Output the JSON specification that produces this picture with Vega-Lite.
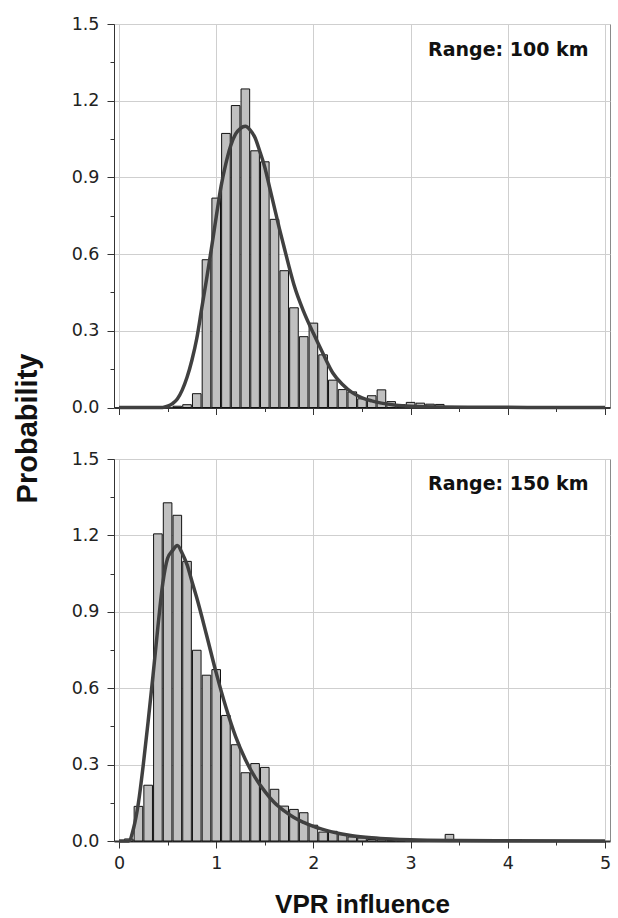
{
  "$schema": "https://vega.github.io/schema/vega-lite/v6.json",
  "padding": {"left": 12, "top": 14, "right": 2, "bottom": 2},
  "background": "white",
  "spacing": 51,
  "bounds": "flush",
  "datasets": {
    "bars100": [
      {"x": 0.6, "p": 0.005}, {"x": 0.7, "p": 0.011}, {"x": 0.8, "p": 0.054}, {"x": 0.9, "p": 0.578},
      {"x": 1.0, "p": 0.819}, {"x": 1.1, "p": 1.072}, {"x": 1.2, "p": 1.181}, {"x": 1.3, "p": 1.246},
      {"x": 1.4, "p": 1.004}, {"x": 1.5, "p": 0.961}, {"x": 1.6, "p": 0.736}, {"x": 1.7, "p": 0.535},
      {"x": 1.8, "p": 0.39}, {"x": 1.9, "p": 0.277}, {"x": 2.0, "p": 0.33}, {"x": 2.1, "p": 0.206},
      {"x": 2.2, "p": 0.107}, {"x": 2.3, "p": 0.07}, {"x": 2.4, "p": 0.061}, {"x": 2.5, "p": 0.034},
      {"x": 2.6, "p": 0.046}, {"x": 2.7, "p": 0.069}, {"x": 2.8, "p": 0.023}, {"x": 2.9, "p": 0.011},
      {"x": 3.0, "p": 0.02}, {"x": 3.1, "p": 0.017}, {"x": 3.2, "p": 0.013}, {"x": 3.3, "p": 0.012},
      {"x": 3.4, "p": 0.004}, {"x": 3.5, "p": 0.003}, {"x": 3.6, "p": 0.003}, {"x": 3.7, "p": 0.002}
    ],
    "curve100": [
      {"x": 0, "p": 0}, {"x": 0.45, "p": 0}, {"x": 0.5, "p": 0.005}, {"x": 0.55, "p": 0.015},
      {"x": 0.6, "p": 0.033}, {"x": 0.65, "p": 0.068}, {"x": 0.7, "p": 0.118}, {"x": 0.75, "p": 0.185},
      {"x": 0.8, "p": 0.27}, {"x": 0.85, "p": 0.385}, {"x": 0.9, "p": 0.5}, {"x": 0.95, "p": 0.62},
      {"x": 1.0, "p": 0.745}, {"x": 1.05, "p": 0.865}, {"x": 1.1, "p": 0.955}, {"x": 1.15, "p": 1.025},
      {"x": 1.2, "p": 1.07}, {"x": 1.25, "p": 1.092}, {"x": 1.3, "p": 1.1}, {"x": 1.35, "p": 1.085},
      {"x": 1.4, "p": 1.055}, {"x": 1.45, "p": 1.0}, {"x": 1.5, "p": 0.94}, {"x": 1.55, "p": 0.86},
      {"x": 1.6, "p": 0.78}, {"x": 1.65, "p": 0.7}, {"x": 1.7, "p": 0.625}, {"x": 1.75, "p": 0.55},
      {"x": 1.8, "p": 0.48}, {"x": 1.9, "p": 0.375}, {"x": 2.0, "p": 0.29}, {"x": 2.1, "p": 0.21},
      {"x": 2.2, "p": 0.135}, {"x": 2.3, "p": 0.09}, {"x": 2.4, "p": 0.058}, {"x": 2.5, "p": 0.038},
      {"x": 2.6, "p": 0.026}, {"x": 2.7, "p": 0.017}, {"x": 2.85, "p": 0.009}, {"x": 3.0, "p": 0.005},
      {"x": 3.3, "p": 0.002}, {"x": 3.7, "p": 0.001}, {"x": 4.2, "p": 0.0003}, {"x": 5.0, "p": 0}
    ],
    "bars150": [
      {"x": 0.1, "p": 0.008}, {"x": 0.2, "p": 0.136}, {"x": 0.3, "p": 0.219}, {"x": 0.4, "p": 1.206},
      {"x": 0.5, "p": 1.328}, {"x": 0.6, "p": 1.279}, {"x": 0.7, "p": 1.098}, {"x": 0.8, "p": 0.749},
      {"x": 0.9, "p": 0.651}, {"x": 1.0, "p": 0.673}, {"x": 1.1, "p": 0.493}, {"x": 1.2, "p": 0.378},
      {"x": 1.3, "p": 0.268}, {"x": 1.4, "p": 0.304}, {"x": 1.5, "p": 0.289}, {"x": 1.6, "p": 0.203},
      {"x": 1.7, "p": 0.137}, {"x": 1.8, "p": 0.124}, {"x": 1.9, "p": 0.111}, {"x": 2.0, "p": 0.062},
      {"x": 2.1, "p": 0.035}, {"x": 2.2, "p": 0.038}, {"x": 2.3, "p": 0.025}, {"x": 2.4, "p": 0.016},
      {"x": 2.5, "p": 0.012}, {"x": 2.6, "p": 0.006}, {"x": 2.7, "p": 0.005}, {"x": 2.8, "p": 0.002},
      {"x": 2.9, "p": 0.002}, {"x": 3.4, "p": 0.026}
    ],
    "curve150": [
      {"x": 0, "p": 0}, {"x": 0.1, "p": 0}, {"x": 0.15, "p": 0.05}, {"x": 0.2, "p": 0.15},
      {"x": 0.25, "p": 0.3}, {"x": 0.3, "p": 0.47}, {"x": 0.35, "p": 0.65}, {"x": 0.4, "p": 0.84},
      {"x": 0.45, "p": 1.01}, {"x": 0.5, "p": 1.11}, {"x": 0.55, "p": 1.14}, {"x": 0.6, "p": 1.16},
      {"x": 0.65, "p": 1.13}, {"x": 0.7, "p": 1.085}, {"x": 0.75, "p": 1.02}, {"x": 0.8, "p": 0.955},
      {"x": 0.9, "p": 0.81}, {"x": 1.0, "p": 0.66}, {"x": 1.1, "p": 0.525}, {"x": 1.2, "p": 0.41},
      {"x": 1.3, "p": 0.32}, {"x": 1.4, "p": 0.25}, {"x": 1.5, "p": 0.195}, {"x": 1.6, "p": 0.15},
      {"x": 1.7, "p": 0.118}, {"x": 1.8, "p": 0.092}, {"x": 1.9, "p": 0.073}, {"x": 2.0, "p": 0.057},
      {"x": 2.2, "p": 0.035}, {"x": 2.4, "p": 0.021}, {"x": 2.6, "p": 0.013}, {"x": 2.8, "p": 0.008},
      {"x": 3.0, "p": 0.005}, {"x": 3.5, "p": 0.002}, {"x": 4.0, "p": 0.001}, {"x": 5.0, "p": 0}
    ],
    "label100": [{"label": "Range: 100 km"}],
    "label150": [{"label": "Range: 150 km"}]
  },
  "vconcat": [
    {
      "width": 496,
      "height": 383.5,
      "layer": [
        {
          "data": {"name": "bars100"},
          "mark": {"type": "bar", "width": 8.6, "fill": "#c0c0c0", "stroke": "#111111", "strokeWidth": 1},
          "encoding": {
            "x": {"field": "x", "type": "quantitative", "scale": {"domain": [0, 5], "nice": false},
                  "axis": {"orient": "bottom", "values": [0, 1, 2, 3, 4, 5], "labels": false, "title": null, "tickSize": 7, "domainWidth": 2, "grid": true}},
            "y": {"field": "p", "type": "quantitative", "scale": {"domain": [0, 1.5], "nice": false},
                  "axis": {"orient": "left", "values": [0, 0.3, 0.6, 0.9, 1.2, 1.5], "format": ".1f", "tickSize": 7, "labelPadding": 8, "grid": true,
                           "title": "Probability", "titleY": 404, "titlePadding": 29, "titleFontSize": 29}}
          }
        },
        {
          "data": {"name": "curve100"},
          "mark": {"type": "line", "color": "#404040", "strokeWidth": 3.5, "interpolate": "monotone"},
          "encoding": {
            "x": {"field": "x", "type": "quantitative",
                  "axis": {"orient": "bottom", "values": [0.5, 1.5, 2.5, 3.5, 4.5], "labels": false, "title": null, "tickSize": 4, "domain": false, "grid": false}},
            "y": {"field": "p", "type": "quantitative",
                  "axis": {"orient": "left", "values": [0.15, 0.45, 0.75, 1.05, 1.35], "labels": false, "title": null, "tickSize": 4, "domain": false, "grid": false}}
          }
        },
        {
          "data": {"name": "label100"},
          "mark": {"type": "text", "align": "right", "baseline": "middle", "font": "DejaVu Sans", "fontWeight": "bold", "fontSize": 19, "color": "#111111"},
          "encoding": {
            "x": {"datum": 4.83, "type": "quantitative", "axis": null},
            "y": {"datum": 1.4, "type": "quantitative", "axis": null},
            "text": {"field": "label"}
          }
        }
      ],
      "resolve": {"axis": {"x": "independent", "y": "independent"}}
    },
    {
      "width": 496,
      "height": 382,
      "layer": [
        {
          "data": {"name": "bars150"},
          "mark": {"type": "bar", "width": 8.6, "fill": "#c0c0c0", "stroke": "#111111", "strokeWidth": 1},
          "encoding": {
            "x": {"field": "x", "type": "quantitative", "scale": {"domain": [0, 5], "nice": false},
                  "axis": {"orient": "bottom", "values": [0, 1, 2, 3, 4, 5], "title": "VPR influence", "titlePadding": 19, "titleFontSize": 26, "labelPadding": 6.5, "tickSize": 7, "domainWidth": 2, "grid": true}},
            "y": {"field": "p", "type": "quantitative", "scale": {"domain": [0, 1.5], "nice": false},
                  "axis": {"orient": "left", "values": [0, 0.3, 0.6, 0.9, 1.2, 1.5], "format": ".1f", "tickSize": 7, "labelPadding": 8, "grid": true, "title": null}}
          }
        },
        {
          "data": {"name": "curve150"},
          "mark": {"type": "line", "color": "#404040", "strokeWidth": 3.5, "interpolate": "monotone"},
          "encoding": {
            "x": {"field": "x", "type": "quantitative",
                  "axis": {"orient": "bottom", "values": [0.5, 1.5, 2.5, 3.5, 4.5], "labels": false, "title": null, "tickSize": 4, "domain": false, "grid": false}},
            "y": {"field": "p", "type": "quantitative",
                  "axis": {"orient": "left", "values": [0.15, 0.45, 0.75, 1.05, 1.35], "labels": false, "title": null, "tickSize": 4, "domain": false, "grid": false}}
          }
        },
        {
          "data": {"name": "label150"},
          "mark": {"type": "text", "align": "right", "baseline": "middle", "font": "DejaVu Sans", "fontWeight": "bold", "fontSize": 19, "color": "#111111"},
          "encoding": {
            "x": {"datum": 4.83, "type": "quantitative", "axis": null},
            "y": {"datum": 1.4, "type": "quantitative", "axis": null},
            "text": {"field": "label"}
          }
        }
      ],
      "resolve": {"axis": {"x": "independent", "y": "independent"}}
    }
  ],
  "config": {
    "view": {"stroke": "#8a8a8a", "strokeWidth": 1},
    "axis": {
      "labelFont": "DejaVu Sans", "labelFontSize": 17.5, "labelColor": "#222222", "labelFlush": false, "labelOverlap": false,
      "tickColor": "#333333", "domainColor": "#333333", "gridColor": "#cfcfcf", "gridWidth": 1,
      "titleFont": "Liberation Sans", "titleFontSize": 27, "titleFontWeight": "bold", "titleColor": "#111111"
    }
  }
}
